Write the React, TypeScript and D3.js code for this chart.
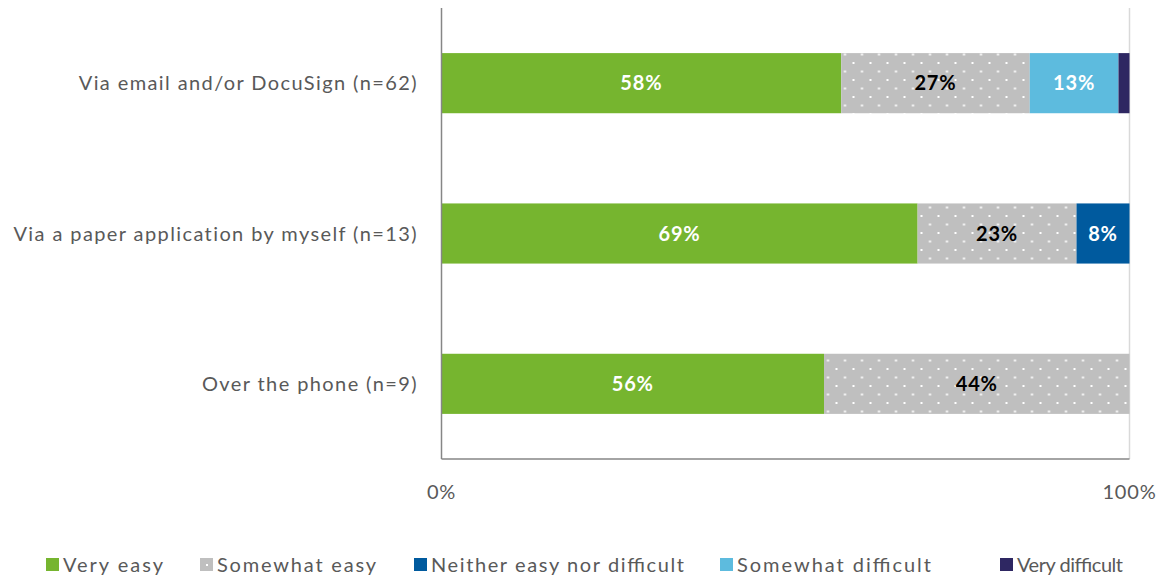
import React from "react";
import * as d3 from "d3";

const categories = [
  "Via email and/or DocuSign (n=62)",
  "Via a paper application by myself (n=13)",
  "Over the phone (n=9)",
];
const seriesNames = [
  "Very easy",
  "Somewhat easy",
  "Neither easy nor difficult",
  "Somewhat difficult",
  "Very difficult",
];
const veryEasy = [58.1, 69.2, 55.6];
const somewhatEasy = [27.4, 23.1, 44.4];
const neither = [0, 7.7, 0];
const somewhatDifficult = [12.9, 0, 0];
const veryDifficult = [1.6, 0, 0];
const xTicks = [0, 100];

const colors = ["#76b52f", "#bfbfbf", "#005a9e", "#5dbbde", "#2e2762"];
const labelColors = ["#ffffff", "#000000", "#ffffff", "#ffffff", "#ffffff"];

export default function App() {
  const W = 1164;
  const H = 578;
  const left = 441.5;
  const right = 1129.5;
  const top = 8;
  const bottom = 459;
  const x = d3.scaleLinear().domain([0, 100]).range([left, right]);
  const y = d3.scaleBand<string>().domain(categories).range([top, bottom]).paddingInner(0.6).paddingOuter(0.3);

  const table = categories.map((c, i) => ({
    cat: c,
    v: [veryEasy[i], somewhatEasy[i], neither[i], somewhatDifficult[i], veryDifficult[i]],
  }));
  const stack = d3.stack<any>().keys([0, 1, 2, 3, 4] as any).value((d: any, k: any) => d.v[k]);
  const stacked = stack(table as any);

  const font = "Lato, 'Open Sans', sans-serif";
  const ls = 1.4;
  const legendX = [46, 200, 414, 720, 1000];
  const legendLen = [100, 159, 253, 194, 106];

  return (
    <svg width={W} height={H} style={{ position: "absolute", left: 0, top: 0 }}>
      <defs>
        <pattern id="dots" width="17" height="17" patternUnits="userSpaceOnUse" x={left} y={top}>
          <rect width="17" height="17" fill="#bfbfbf" />
          <rect x="3" y="3" width="2" height="2" fill="#ffffff" />
          <rect x="11.5" y="11.5" width="2" height="2" fill="#ffffff" />
        </pattern>
      </defs>
      <rect x={0} y={0} width={W} height={H} fill="#ffffff" />
      <line x1={x(100)} x2={x(100)} y1={top} y2={bottom} stroke="#d9d9d9" strokeWidth={1.5} />
      {stacked.map((layer, si) =>
        layer.map((seg, ci) => {
          const w = x(seg[1]) - x(seg[0]);
          if (w <= 0) return null;
          const yy = y(categories[ci])!;
          return (
            <rect
              key={`${si}-${ci}`}
              x={x(seg[0])}
              y={yy}
              width={w}
              height={y.bandwidth()}
              fill={si === 1 ? "url(#dots)" : colors[si]}
            />
          );
        })
      )}
      {stacked.map((layer, si) =>
        layer.map((seg, ci) => {
          const val = seg[1] - seg[0];
          if (val < 5) return null;
          const yy = y(categories[ci])! + y.bandwidth() / 2;
          return (
            <text
              key={`t${si}-${ci}`}
              x={(x(seg[0]) + x(seg[1])) / 2}
              y={yy}
              dy="0.35em"
              textAnchor="middle"
              fontFamily={font}
              fontWeight="bold"
              fontSize={20}
              letterSpacing={0.8}
              fill={labelColors[si]}
            >
              {Math.round(val)}%
            </text>
          );
        })
      )}
      <line x1={left} x2={left} y1={top} y2={bottom} stroke="#868686" strokeWidth={1.5} />
      <line x1={left} x2={right} y1={bottom} y2={bottom} stroke="#868686" strokeWidth={1.5} />
      {xTicks.map((t) => (
        <text key={t} x={x(t)} y={492} dy="0.35em" textAnchor="middle" fontFamily={font} fontSize={20} letterSpacing={0.8} fill="#595959">
          {t}%
        </text>
      ))}
      {categories.map((c) => (
        <text
          key={c}
          x={418}
          y={y(c)! + y.bandwidth() / 2}
          dy="0.35em"
          textAnchor="end"
          fontFamily={font}
          fontSize={20}
          letterSpacing={ls}
          fill="#595959"
        >
          {c}
        </text>
      ))}
      {seriesNames.map((s, i) => (
        <g key={s}>
          <rect x={legendX[i]} y={558} width={13} height={13} fill={i === 1 ? "#bfbfbf" : colors[i]} />
          {i === 1 && <rect x={legendX[i] + 6} y={564} width={2} height={2} fill="#fff" />}
          <text
            x={legendX[i] + 17}
            y={565}
            dy="0.35em"
            fontFamily={font}
            fontSize={20}
            textLength={legendLen[i]}
            lengthAdjust="spacing"
            fill="#595959"
          >
            {s}
          </text>
        </g>
      ))}
    </svg>
  );
}
